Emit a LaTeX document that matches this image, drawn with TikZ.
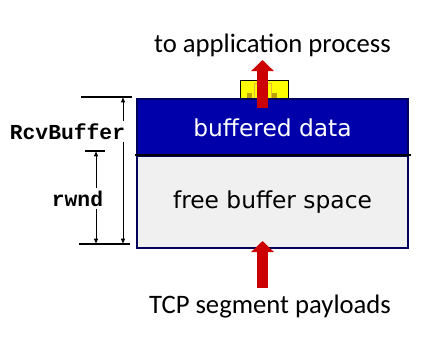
\documentclass[tikz,border=0pt]{standalone}
\usepackage{fontspec}
\setmainfont{Carlito}
\setmonofont{Liberation Mono}
\newfontfamily\boxfont{DejaVu Sans}
\usetikzlibrary{arrows.meta, positioning}

\definecolor{bufblue}{RGB}{0,0,170}
\definecolor{bufnavy}{RGB}{0,0,90}
\definecolor{freegray}{RGB}{240,240,240}
\definecolor{appred}{RGB}{204,0,0}
\definecolor{appyellow}{RGB}{255,255,0}
\definecolor{darkyellow}{RGB}{190,160,0}
\definecolor{paleorange}{RGB}{235,185,60}

\begin{document}
\begin{tikzpicture}[
    x=0.75pt, y=-0.75pt,
    every node/.style={font=\fontsize{20}{24}\selectfont},
    box/.style={rectangle, draw=bufnavy, line width=1.1pt, minimum width=203.25pt, inner sep=0pt, align=center, font=\boxfont\fontsize{17.5}{21}\selectfont},
    fatarrow/.style={-{Triangle[length=8.25pt, width=16.5pt]}, line width=8.25pt, appred},
    dim/.style={{Latex[length=4pt, width=3.5pt]}-{Latex[length=4pt, width=3.5pt]}, line width=0.6pt},
    tick/.style={line width=1.5pt},
    varname/.style={font=\ttfamily\bfseries\fontsize{16}{19}\selectfont, fill=white, inner sep=2pt}
]
\useasboundingbox (0,0) rectangle (445,339);

% ============ RECEIVE BUFFER ============
% Data waiting for the application
\node[draw, fill=appyellow, line width=0.5pt, minimum width=36pt, minimum height=14.25pt, inner sep=0pt] (appdata) at (264,89.5) {};
\fill[darkyellow] (247,93) rectangle (252,99);
\fill[darkyellow] (272,93) rectangle (277,99);
\draw[paleorange, line width=0.6pt] (254,83) rectangle (271,99);

\node[box, fill=bufblue, text=white, minimum height=42.75pt] (bufdata) at (272.5,127.5) {buffered data};
\node[box, fill=freegray, minimum height=69pt] (freespace) at (272.5,202) {free buffer space};
\draw[line width=1.5pt] ([xshift=-0.75pt]freespace.north west) -- ([xshift=1.5pt]freespace.north east);

% ============ DATA FLOW ============
\coordinate (uptail) at (262.5,108);
\coordinate (uptip) at (262.5,60);
\draw[fatarrow] (uptail) -- (uptip);
\node[anchor=base] (toapp) at (272.5,52) {to application process};

\coordinate (intail) at (262.5,288);
\coordinate (intip) at (262.5,241);
\draw[fatarrow] (intail) -- (intip);
\node[anchor=base] (payloads) at (270,313) {TCP segment payloads};

% ============ SIZES ============
\coordinate (rcvtop) at (123,97);
\coordinate (rcvbot) at (123,244);
\coordinate (rwndtop) at (96,151);
\coordinate (rwndbot) at (96,244);

\draw[tick] (81,97) -- (132,97);
\draw[tick] (79,244) -- (130,244);
\draw[tick] (85,151) -- (105,151);

\draw[dim] (rcvtop) -- (rcvbot);
\draw[dim] (rwndtop) -- (rwndbot);

\node[varname, anchor=base] (rcvlabel) at (67.5,139) {RcvBuffer};
\node[varname, anchor=base] (rwndlabel) at (77.5,206) {rwnd};

\end{tikzpicture}
\end{document}
